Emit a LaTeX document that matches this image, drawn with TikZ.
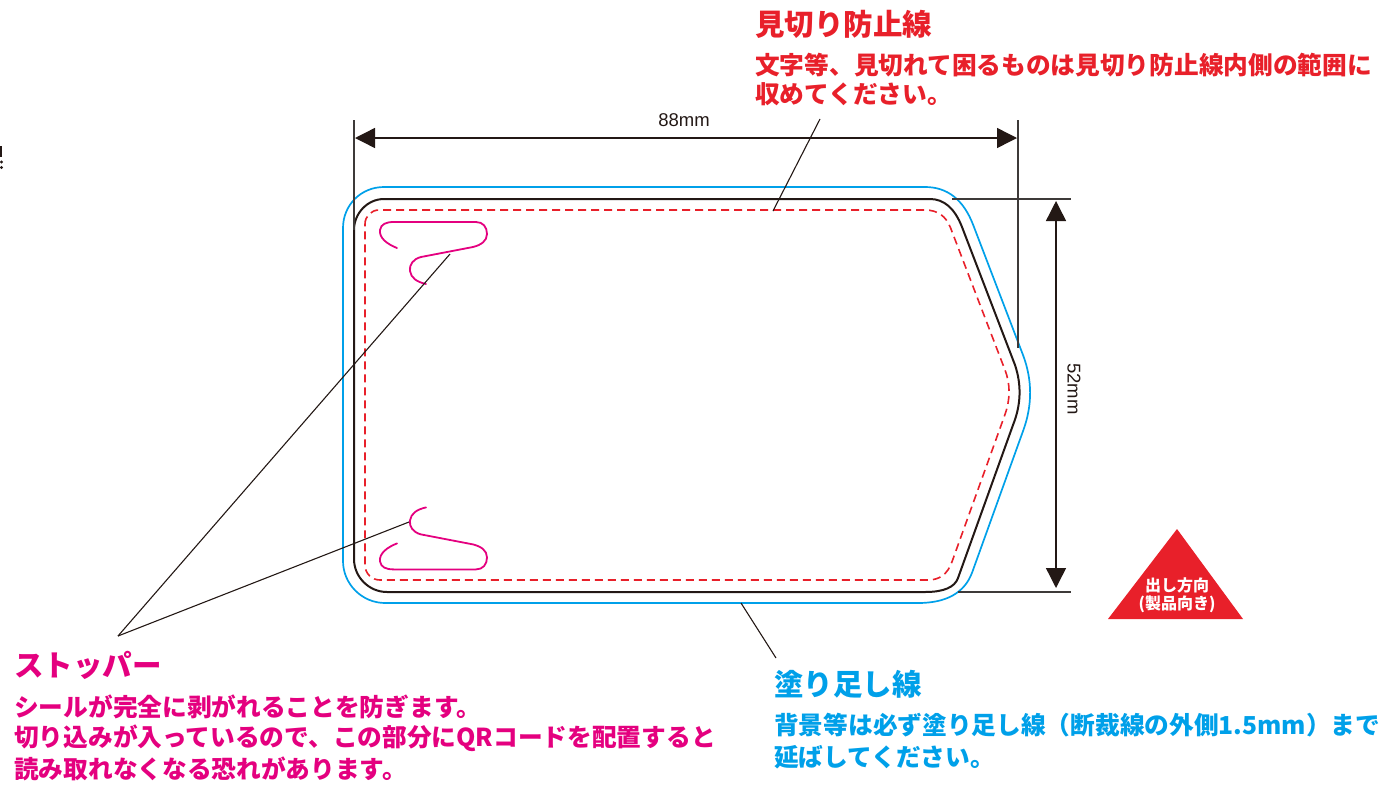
\documentclass[tikz,border=0pt]{standalone}
\usepackage{fontspec}
\setmainfont{Liberation Sans}
\newfontfamily\jp{Noto Sans CJK JP}
\usetikzlibrary{arrows.meta}
\definecolor{cutblack}{HTML}{231815}
\definecolor{dimgray}{HTML}{3E3A39}
\definecolor{safered}{HTML}{E8202A}
\definecolor{stopmag}{HTML}{E4007F}
\definecolor{bleedcyan}{HTML}{00A0E9}
\begin{document}
\begin{tikzpicture}[x=1pt,y=-1pt,
  cutline/.style={draw=cutblack, line width=2pt, line join=round},
  bleedline/.style={draw=bleedcyan, line width=1.7pt, line join=round},
  safeline/.style={draw=safered, line width=1.6pt, dash pattern=on 8pt off 5pt},
  stopline/.style={draw=stopmag, line width=1.8pt, line cap=round},
  dimline/.style={draw=dimgray, line width=1.4pt},
  dimarrow/.style={draw=cutblack, line width=1.4pt, {Triangle[length=20pt,width=20pt]}-{Triangle[length=20pt,width=20pt]}},
  leader/.style={draw=cutblack, line width=1.1pt},
  dimtext/.style={font=\fontsize{18.5pt}{20pt}\selectfont, text=cutblack, inner sep=0pt},
  headtext/.style={font=\jp\bfseries\fontsize{29.5pt}{32pt}\selectfont, anchor=west, inner sep=0pt},
  bodytext/.style={font=\jp\bfseries\fontsize{24.7pt}{28pt}\selectfont, anchor=west, inner sep=0pt},
  tritext/.style={font=\jp\bfseries\fontsize{16pt}{18pt}\selectfont, text=white, inner sep=0pt}
]
\useasboundingbox (0,0) rectangle (1389,785);

% cropped sliver at the left edge
\draw[cutblack, line width=2pt] (1.2,146) -- (1.2,157);
\fill[cutblack] (1.5,162) circle (1.6);
\fill[cutblack] (1.5,167.5) circle (1.6);

% bleed line (cyan)
\path[bleedline] (343,228) .. controls (343,205) and (361,187) .. (384,187)
  -- (925,187) .. controls (947.5,187) and (963.5,199.7) .. (973.2,225)
  -- (1023,355) .. controls (1032.3,379.7) and (1032.5,404.7) .. (1023.4,430)
  -- (972.3,572) .. controls (964.8,592.7) and (946.7,603) .. (918,603)
  -- (385,603) .. controls (362,603) and (343,584) .. (343,561) -- cycle;

% cut line (black)
\path[cutline] (354,230) .. controls (354,213.4) and (367.4,199) .. (384,199)
  -- (930,199) .. controls (944,199) and (954.7,208.3) .. (962,227)
  -- (1015,365) .. controls (1021.7,385) and (1021,405) .. (1013,425)
  -- (958,578) .. controls (954.7,587.3) and (943.7,592) .. (925,592)
  -- (387,592) .. controls (369,592) and (354,577) .. (354,559) -- cycle;

% safety line (red dashed)
\path[safeline] (365,224) .. controls (365,216.3) and (371.3,210) .. (379,210)
  -- (925,210) .. controls (937.5,210) and (946,216) .. (950.6,228)
  -- (1005,370) .. controls (1010.5,384.3) and (1010.4,399.3) .. (1004.8,415)
  -- (951.9,562) .. controls (947.6,574) and (939.6,580) .. (928,580)
  -- (380,580) .. controls (371.7,580) and (365,573.3) .. (365,565) -- cycle;

% stoppers
\path[stopline] (397,248) .. controls (387,244) and (379,238) .. (380,230)
  .. controls (381,224) and (386,222) .. (394,222)
  -- (476,222) .. controls (483,222) and (487,227) .. (487,234)
  .. controls (487,241) and (481,245) .. (473,247)
  -- (421,257) .. controls (413,259) and (409,265) .. (410,271)
  .. controls (411,278) and (417,282) .. (426,284);
\begin{scope}[shift={(0,791.4)}, yscale=-1]
\path[stopline] (397,248) .. controls (387,244) and (379,238) .. (380,230)
  .. controls (381,224) and (386,222) .. (394,222)
  -- (476,222) .. controls (483,222) and (487,227) .. (487,234)
  .. controls (487,241) and (481,245) .. (473,247)
  -- (421,257) .. controls (413,259) and (409,265) .. (410,271)
  .. controls (411,278) and (417,282) .. (426,284);
\end{scope}

% dimension: width
\coordinate (extLtop) at (354,120);
\coordinate (extLbot) at (354,230);
\coordinate (extRtop) at (1018,120);
\coordinate (extRbot) at (1018,348);
\draw[dimline] (extLtop) -- (extLbot);
\draw[dimline] (extRtop) -- (extRbot);
\coordinate (dimL) at (355,138);
\coordinate (dimR) at (1017,138);
\draw[dimarrow] (dimL) -- (dimR);
\node[dimtext] (wlabel) at (684,120) {88mm};

% dimension: height
\coordinate (extTl) at (952,199);
\coordinate (extTr) at (1071,199);
\coordinate (extBl) at (958,592);
\coordinate (extBr) at (1071,592);
\draw[dimline] (extTl) -- (extTr);
\draw[dimline] (extBl) -- (extBr);
\coordinate (dimT) at (1056,201);
\coordinate (dimB) at (1056,588);
\draw[dimarrow] (dimT) -- (dimB);
\node[dimtext, rotate=-90] (hlabel) at (1074,389) {52mm};

% direction triangle
\coordinate (triT) at (1177,529);
\coordinate (triR) at (1243,619);
\coordinate (triL) at (1108,619);
\fill[safered] (triT) -- (triR) -- (triL) -- cycle;
\node[tritext] (tri1) at (1177,585) {出し方向};
\node[tritext] (tri2) at (1177,604) {(製品向き)};

% leaders
\coordinate (safeA) at (820,119);
\coordinate (safeB) at (773,211);
\draw[leader] (safeA) -- (safeB);
\coordinate (stopTip) at (118,636);
\coordinate (stopA) at (450,254);
\coordinate (stopB) at (409,522);
\draw[leader] (stopTip) -- (stopA);
\draw[leader] (stopTip) -- (stopB);
\coordinate (bleedA) at (741,603);
\coordinate (bleedB) at (776,658);
\draw[leader] (bleedA) -- (bleedB);

% red texts
\node[headtext, text=safered] (safeH) at (755,24.5) {見切り防止線};
\node[bodytext, text=safered] (safe1) at (755,65) {文字等、見切れて困るものは見切り防止線内側の範囲に};
\node[bodytext, text=safered] (safe2) at (755,94) {収めてください。};

% magenta texts
\node[headtext, text=stopmag] (stopH) at (14,665) {ストッパー};
\node[bodytext, text=stopmag] (stop1) at (14,707) {シールが完全に剥がれることを防ぎます。};
\node[bodytext, text=stopmag] (stop2) at (14,738) {切り込みが入っているので、この部分にQRコードを配置すると};
\node[bodytext, text=stopmag] (stop3) at (14,769) {読み取れなくなる恐れがあります。};

% cyan texts
\node[headtext, text=bleedcyan] (bleedH) at (774,684) {塗り足し線};
\node[bodytext, text=bleedcyan] (bleed1) at (774,725) {背景等は必ず塗り足し線（断裁線の外側1.5mm）まで};
\node[bodytext, text=bleedcyan] (bleed2) at (774,757) {延ばしてください。};
\end{tikzpicture}
\end{document}
